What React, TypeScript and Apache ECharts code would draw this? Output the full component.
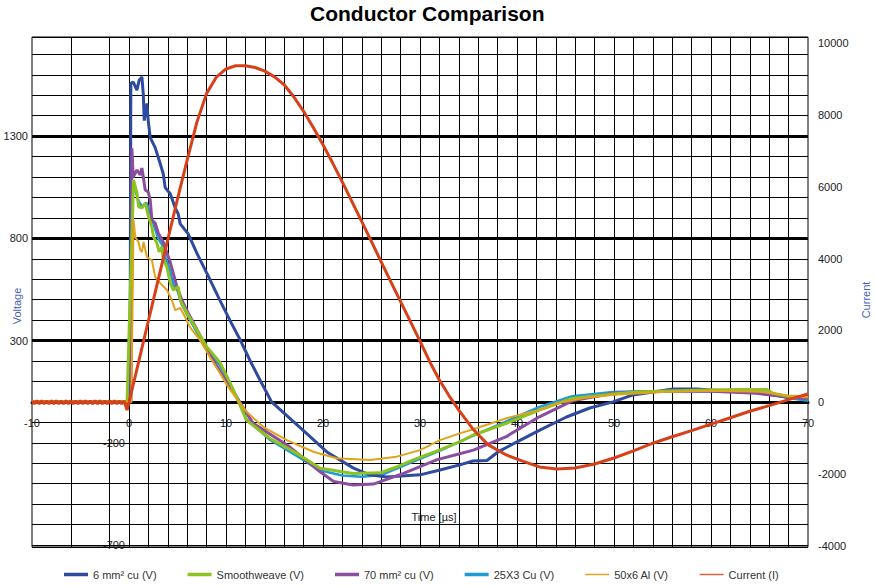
import React, { useEffect, useRef } from 'react';
import * as echarts from 'echarts';

// ---- Data (time in µs, voltage in V, current in A) ----
const sixCuV: number[][] = [
  [-10, 0], [0.1, 0], [0.19, 1558], [0.44, 1564], [0.82, 1525], [1.05, 1574], [1.33, 1590], [1.47, 1507],
  [1.57, 1376], [1.85, 1460], [1.98, 1376], [2.19, 1293], [2.7, 1244], [3.22, 1165], [3.53, 1116], [3.73, 1048],
  [4.25, 1018], [4.76, 950], [5.07, 920], [5.28, 871], [6.1, 822], [7.03, 724], [8.06, 626], [9.4, 494],
  [10.5, 390], [11.5, 300], [12.5, 200], [13.5, 107], [14.7, 0], [16.3, -69], [17.9, -137], [20.4, -245],
  [23.1, -323], [24.8, -357], [26.6, -367], [30, -357], [32.06, -333], [34.1, -308], [35.45, -289], [36.9, -287],
  [38.03, -245], [40, -196], [42.4, -137], [45.1, -74], [47.5, -30], [49.9, 0], [51.95, 34], [56.1, 63],
  [58.5, 63], [61.2, 54], [64.7, 44], [66.4, 34], [67.8, 24], [70, 19],
];

const smoothweaveV: number[][] = [
  [-10, 0], [-0.2, 0], [0.47, 1085], [0.82, 1022], [0.99, 954], [1.33, 949], [1.67, 973], [2.01, 905],
  [2.36, 856], [2.53, 807], [2.87, 778], [3.11, 734], [3.39, 758], [3.53, 695], [3.91, 661], [4.25, 582],
  [4.56, 548], [5.07, 563], [5.28, 498], [5.97, 435], [7.0, 352], [8.03, 269], [9.4, 191], [10.4, 95],
  [11.3, 0], [12.1, -89], [14.5, -178], [17.3, -252], [19.7, -325], [23.1, -350], [25.9, -347], [27.5, -320],
  [29.3, -284], [32.06, -235], [34.1, -195], [35.5, -162], [38.9, -105], [42.3, -40], [45.7, 17], [49.9, 38],
  [52.6, 50], [59.5, 58], [62.9, 61], [65.7, 61], [66.4, 42], [67.8, 29], [70, 25],
];

const seventyCuV: number[][] = [
  [-10, 0], [0.2, 0], [0.3, 1240], [0.43, 1100], [0.82, 1134], [1.16, 1110], [1.33, 1144], [1.47, 1100],
  [1.67, 1037], [1.98, 1027], [2.19, 987], [2.36, 889], [2.7, 875], [3.01, 826], [3.53, 782], [3.91, 728],
  [4.25, 684], [4.56, 630], [4.94, 562], [5.45, 498], [6.1, 435], [7.03, 352], [8.06, 254], [9.09, 171],
  [10.3, 80], [11.4, 0], [12.8, -105], [16.3, -211], [19.7, -342], [21.1, -390], [23.1, -407], [25.2, -402],
  [28.3, -350], [31.7, -284], [34, -255], [35.5, -236], [38.9, -170], [42.3, -73], [45.7, 5], [49.9, 42],
  [52.6, 50], [59.5, 53], [64.7, 42], [67.8, 25], [69.7, 17], [70, 30],
];

const cu25x3V: number[][] = [
  [-10, 0], [0.05, 0], [0.2, 1000], [0.5, 1060], [1.0, 980], [1.4, 955], [1.8, 975], [2.2, 920],
  [2.6, 860], [3.0, 800], [3.4, 770], [3.8, 700], [4.2, 650], [4.6, 570], [5.0, 545], [5.4, 480],
  [6.0, 425], [7.0, 340], [8.0, 260], [9.4, 175], [10.5, 80], [11.4, 0], [12.1, -85], [14.5, -185],
  [17.3, -265], [19.7, -335], [22, -360], [24, -366], [26, -358], [29.3, -292], [32, -240], [35.5, -165],
  [38.9, -95], [42.3, -25], [45.7, 28], [49.9, 48], [52.6, 52], [59.5, 52], [62.9, 50], [65.7, 45],
  [67.8, 20], [70, 5],
];

const al50x6V: number[][] = [
  [-10, 0], [0.25, 0], [0.47, 889], [0.64, 806], [0.98, 782], [1.16, 743], [1.33, 733], [1.5, 782],
  [1.85, 708], [2.36, 694], [2.7, 611], [3.22, 581], [3.91, 547], [4.42, 498], [4.76, 449], [5.28, 459],
  [5.79, 415], [6.28, 366], [7.31, 303], [8.34, 219], [9.37, 141], [10.09, 82], [11.2, 10], [12.15, -50],
  [13.86, -123], [16.27, -187], [19.0, -244], [21.4, -276], [24.85, -284], [27.6, -268], [30, -236], [32.06, -187],
  [34.1, -154], [35.5, -134], [38.9, -80], [42.3, -40], [44.1, -7], [47, 20], [50, 35], [55, 48],
  [60, 55], [65, 50], [68, 30], [70, 22],
];

const currentI: number[][] = [
  [-10, 40], [-9.75, -45], [-9.5, 45], [-9.25, -40], [-9, 45], [-8.75, -45], [-8.5, 40], [-8.25, -45],
  [-8, 45], [-7.75, -40], [-7.5, 45], [-7.25, -45], [-7, 40], [-6.75, -45], [-6.5, 45], [-6.25, -40],
  [-6, 45], [-5.75, -45], [-5.5, 40], [-5.25, -45], [-5, 45], [-4.75, -40], [-4.5, 45], [-4.25, -45],
  [-4, 40], [-3.75, -45], [-3.5, 45], [-3.25, -40], [-3, 45], [-2.75, -45], [-2.5, 40], [-2.25, -45],
  [-2, 45], [-1.75, -40], [-1.5, 45], [-1.25, -45], [-1, 40], [-0.75, -45], [-0.5, 40], [-0.2, -220],
  [0, 0], [1, 1130], [2, 2270], [3, 3400], [4, 4530], [5, 5660], [6, 6750], [7, 7800],
  [8, 8600], [9, 9050], [10, 9280], [11, 9370], [12, 9370], [13, 9320], [14, 9220], [15, 9060],
  [16, 8840], [17, 8500], [18, 8100], [19, 7650], [20, 7170], [21, 6660], [22, 6130], [23, 5580],
  [24, 5030], [25, 4470], [26, 3910], [27, 3350], [28, 2800], [29, 2250], [30, 1700], [31, 1130],
  [32, 620], [33, 180], [34, -220], [35.5, -760], [37, -1180], [38.9, -1467], [40.5, -1634], [42.3, -1800],
  [44.1, -1857], [46, -1829], [48, -1718], [50, -1551], [52, -1356], [54, -1140], [56, -960], [58, -790],
  [60, -610], [62, -430], [64, -250], [66, -95], [68, 75], [70, 230],
];

// gridline positions
const timeGridLines = [-6, -2, 0, 2, 4, 6, 8, 10, 12, 14, 16, 18, 20, 22, 24, 26, 28, 30, 32, 34, 36, 38, 40,
  42, 44, 46, 48, 50, 52, 54, 56, 58, 60, 62, 64, 66, 68];
const voltageMajorLines = [300, 800, 1300];

const FONT = '"Liberation Sans", Arial, sans-serif';
const LABEL = { fontFamily: FONT, fontSize: 11, color: '#222' };
const NAME_COLOR = '#4a62b4';
const THICK_ICON = 'path://M0,0H24V3.5H0Z';
const THIN_ICON = 'path://M0,0H24V1.5H0Z';

export default function App() {
  const ref = useRef<HTMLDivElement>(null);
  useEffect(() => {
    if (!ref.current) return;
    const chart = echarts.init(ref.current, undefined, { renderer: 'svg' });
    const line = (name: string, data: number[][], color: string, width: number, z: number, yAxisIndex = 0) => ({
      name, type: 'line', data, yAxisIndex, symbol: 'none', showSymbol: false, silent: true, z,
      lineStyle: { color, width }, itemStyle: { color },
    });
    // zero of the voltage axis measured from the grid bottom (px)
    const zeroOffset = (710 / (1785 + 710)) * 510;
    const option: any = {
      animation: false,
      backgroundColor: '#ffffff',
      title: {
        text: 'Conductor Comparison', left: 310, top: 3, padding: 0,
        textStyle: { fontFamily: FONT, fontSize: 21, fontWeight: 'bold', color: '#000' },
      },
      legend: {
        left: 64, top: 569, padding: 0, itemWidth: 24, itemHeight: 14, itemGap: 31, symbolKeepAspect: true,
        textStyle: { fontFamily: FONT, fontSize: 11, color: '#333' },
        data: [
          { name: '6 mm² cu (V)', icon: THICK_ICON },
          { name: 'Smoothweave (V)', icon: THICK_ICON },
          { name: '70 mm² cu (V)', icon: THICK_ICON },
          { name: '25X3 Cu (V)', icon: THICK_ICON },
          { name: '50x6 Al (V)', icon: THIN_ICON },
          { name: 'Current (I)', icon: THIN_ICON, itemStyle: { color: '#e4603c' } },
        ],
      },
      grid: {
        left: 32, right: 67, top: 37, bottom: 40, show: true, borderColor: '#000', borderWidth: 1,
        containLabel: false, outerBoundsMode: 'none',
      },
      xAxis: {
        type: 'value', min: -10, max: 70, interval: 10, offset: -zeroOffset,
        axisLine: { onZero: false, lineStyle: { color: '#000', width: 3 } },
        axisTick: { show: false }, splitLine: { show: false },
        axisLabel: { ...LABEL, margin: 16 },
        name: 'Time [µs]', nameLocation: 'middle', nameGap: 110, nameMoveOverlap: false,
        nameTextStyle: { fontFamily: FONT, fontSize: 11, color: '#222', padding: [0, 0, 0, 28] },
      },
      yAxis: [
        {
          type: 'value', position: 'left', min: -710, max: 1785, minInterval: 100, maxInterval: 100, splitNumber: 25,
          axisLine: { show: false }, axisTick: { show: false },
          splitLine: { show: true, lineStyle: { color: '#000', width: 1 } },
          axisLabel: {
            ...LABEL, align: 'left', margin: 30,
            formatter: (v: number) => {
              const r = Math.round(v);
              if ((r + 700) % 500 !== 0) return '';
              return r < 0 ? `{n|${r}}` : `{p|${r}}`;
            },
            rich: {
              p: { ...LABEL, width: 26, align: 'right' },
              n: { ...LABEL, width: 123, align: 'right' },
            },
          },
          name: 'Voltage', nameLocation: 'middle', nameGap: 10, nameRotate: 90, nameMoveOverlap: false,
          nameTextStyle: { fontFamily: FONT, fontSize: 11, color: NAME_COLOR, padding: [0, 28, 0, 0] },
        },
        {
          type: 'value', position: 'right', min: -4030, max: 10170, minInterval: 2000, maxInterval: 2000, splitNumber: 7,
          axisLine: { show: false }, axisTick: { show: false }, splitLine: { show: false },
          axisLabel: {
            ...LABEL, margin: 10,
            formatter: (v: number) => {
              const r = Math.round(v);
              return r % 2000 === 0 ? String(r) : '';
            },
          },
          name: 'Current', nameLocation: 'middle', nameGap: 52, nameRotate: 90, nameMoveOverlap: false,
          nameTextStyle: { fontFamily: FONT, fontSize: 11, color: NAME_COLOR, padding: [0, 16, 0, 0] },
        },
      ],
      series: [
        {
          type: 'line', data: [], yAxisIndex: 0, silent: true, z: 1,
          markLine: {
            silent: true, z: 1, symbol: ['none', 'none'], label: { show: false }, animation: false,
            lineStyle: { color: '#000', width: 1, type: 'solid' },
            emphasis: { disabled: true },
            data: [
              ...timeGridLines.map((x) => ({ xAxis: x })),
              ...voltageMajorLines.map((y) => ({ yAxis: y, lineStyle: { color: '#000', width: 3, type: 'solid' } })),
            ],
          },
        },
        line('6 mm² cu (V)', sixCuV, '#2e4b9f', 3, 4),
        line('Smoothweave (V)', smoothweaveV, '#8dc21f', 3, 6),
        line('70 mm² cu (V)', seventyCuV, '#8b4e9e', 3, 5),
        line('25X3 Cu (V)', cu25x3V, '#1e9ad6', 2.5, 3),
        line('50x6 Al (V)', al50x6V, '#e0a31a', 2, 7),
        line('Current (I)', currentI, '#d8401a', 3, 8, 1),
      ],
    };
    chart.setOption(option);
    return () => chart.dispose();
  }, []);
  return <div ref={ref} style={{ position: 'fixed', left: 0, top: 0, width: 875, height: 587 }} />;
}
